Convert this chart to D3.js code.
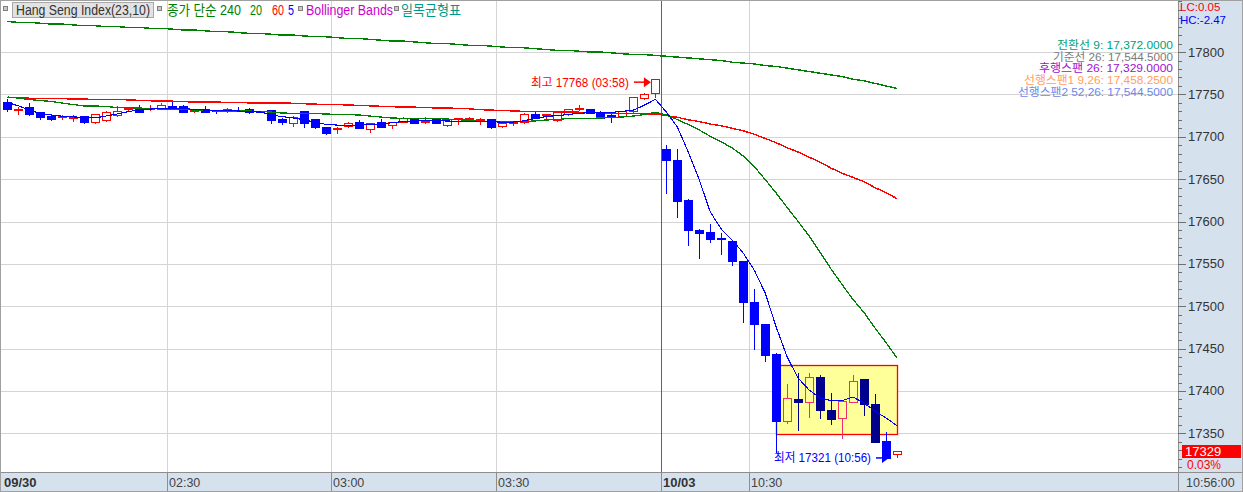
<!DOCTYPE html>
<html><head><meta charset="utf-8">
<script src="https://cdn.jsdelivr.net/npm/d3@7"></script>
<style>
body{margin:0;background:#fff;overflow:hidden}
svg{display:block}
text{font-family:"Liberation Sans","Noto Sans CJK KR",sans-serif}
</style>
</head><body>
<svg id="c" width="1243" height="492"></svg>
<script>
// ---------------- DATA ----------------
const times = [
"02:00","02:02","02:04","02:06","02:08","02:10","02:12","02:14","02:16","02:18",
"02:20","02:22","02:24","02:26","02:28","02:30","02:32","02:34","02:36","02:38",
"02:40","02:42","02:44","02:46","02:48","02:50","02:52","02:54","02:56","02:58",
"03:00","03:02","03:04","03:06","03:08","03:10","03:12","03:14","03:16","03:18",
"03:20","03:22","03:24","03:26","03:28","03:30","03:32","03:34","03:36","03:38",
"03:40","03:42","03:44","03:46","03:48","03:50","03:52","03:54","03:56","03:58",
"10:14","10:16","10:18","10:20","10:22","10:24","10:26","10:28","10:30","10:32",
"10:34","10:36","10:38","10:40","10:42","10:44","10:46","10:48","10:50","10:52",
"10:54","10:56"];

const opens = [17741.5,17731.5,17735,17729,17724,17722.5,17722,17724,17716.5,17719,
17726,17731.5,17733,17732,17733,17736,17736.5,17730,17733,17731.5,
17731,17731.5,17733,17730,17731.5,17720.5,17716.5,17730,17721,17711.5,
17708.5,17713.5,17717,17709.5,17717,17713.5,17718,17721.5,17716.8,17721,
17714,17719.5,17720,17719,17720.5,17712.5,17715.5,17717,17727,17724.5,
17719.5,17726.5,17732.5,17732.7,17729.5,17724.5,17724,17730,17746.5,17751,
17685,17672.5,17625,17590,17588,17580,17577,17553,17505,17479,
17444,17365,17391,17387,17416,17377,17367.5,17387,17414.5,17384.5,
17341,17326];
const closes = [17733,17732.5,17726.5,17723,17720,17723.5,17723,17717,17726.5,17729,
17730.5,17733,17730,17733,17737,17735,17730,17731.5,17730,17729,
17732,17730.5,17729.6,17729.5,17719.5,17717,17723.5,17716,17711.5,17704,
17709.5,17716.5,17710.5,17716.5,17711.5,17717,17722.5,17716.5,17717.5,17716.5,
17721,17722,17722,17720.5,17710.5,17716.5,17716.3,17727,17722.5,17726,
17729,17732.5,17733.5,17728,17723,17724,17730,17746.5,17751,17768,
17671.5,17624.5,17590,17586,17579.7,17579,17553.5,17505,17479,17442,
17365.5,17392,17387,17416,17376.5,17366.5,17388,17412,17385,17340,
17321,17329];
const highs = [17744,17735,17740,17729.5,17727,17725.5,17725.5,17725,17726.5,17731,
17736.5,17735,17737,17737.5,17739.5,17741,17737,17732,17736,17732,
17734,17735,17733.5,17730.5,17732,17722.5,17724,17731,17721.5,17712,
17711.5,17718,17720,17716.5,17720.5,17718,17723,17722,17723,17721.5,
17721.5,17722.5,17723.5,17722.5,17721,17717,17717,17727.5,17730,17727,
17730.5,17733,17737.5,17733,17730,17729,17730.5,17747,17751.5,17768,
17690,17686,17627,17591,17597,17587,17577,17553.5,17520,17479,
17444.5,17408.5,17421.5,17421.5,17419,17397.5,17388,17419,17414.5,17396,
17351.5,17329];
const lows = [17731,17727,17725.5,17721.5,17719.5,17720.5,17718.5,17716.5,17716.5,17719,
17725,17730,17730,17731.5,17733,17734.5,17729,17729,17729.5,17728.5,
17729,17730,17727.5,17729,17716,17715,17712.5,17711,17710,17703.5,
17704,17711.5,17710.5,17705.5,17711,17710,17718,17716,17716.5,17716,
17712.5,17715,17719.5,17715.5,17710,17711.5,17714,17716.5,17722,17720,
17719,17726,17732,17727.5,17722.5,17717.5,17723.5,17729.5,17744,17747,
17634,17605,17572,17557,17576,17561.5,17548.5,17481.5,17449,17435.5,
17328,17362,17353.5,17369,17368,17361.5,17345,17387,17372,17340,
17321,17322];

// moving averages (종가 단순 240 / 20 / 60 / 5)
const ma240 = [17836,17835,17835,17834,17833,17833,17832,17831,17831,17830,
17830,17829,17829,17828,17828,17827,17826,17826,17825,17824,
17824,17823,17822,17822,17821,17820,17820,17819,17818,17818,
17817,17816,17816,17815,17814,17813,17813,17812,17811,17810,
17810,17809,17808,17808,17807,17806,17805,17805,17804,17803,
17802,17802,17801,17800,17800,17799,17798,17797,17797,17796,
17795,17794,17793,17792,17791,17790,17788,17787,17786,17784,
17783,17781,17779,17777,17775,17773,17771,17768,17766,17763,
17760,17757];
const ma20 = [17746.9,17745.7,17743.9,17742.8,17741.6,17739.8,17738.0,17736.3,17736.3,17735.7,
17734.5,17734.3,17733.9,17733.3,17732.7,17732.5,17732.1,17731.6,17731.0,17730.4,
17730.4,17730.4,17730.4,17729.8,17729.2,17728.0,17727.7,17727.7,17727.4,17726.8,
17726.5,17726.2,17725.7,17724.5,17723.3,17722.1,17721.8,17721.8,17721.5,17721.5,
17720.9,17720.3,17719.2,17718.0,17717.8,17717.8,17717.8,17718.0,17718.6,17719.8,
17720.3,17721.5,17721.8,17721.8,17722.1,17722.7,17723.3,17724.5,17726.2,17728.8,
17725.7,17720.3,17714.4,17708.0,17700.5,17694.0,17686.7,17677.3,17664.9,17649.5,
17633.6,17616.5,17600.0,17582.9,17563.4,17543.9,17525.6,17507.9,17492.6,17474.3,
17457.2,17438.9];
const ma60 = [17746,17746,17745.5,17745,17745,17745,17744.5,17744.5,17744,17744,
17744,17743.5,17743,17742.5,17742,17742,17741.5,17741,17741,17741,
17740.5,17740.5,17740,17740,17740,17740,17739.5,17739,17738.5,17738,
17738,17737.5,17737,17736.5,17736,17735.5,17735,17735,17734.5,17734,
17734,17733.5,17733,17732,17731.5,17731,17730.5,17730,17730,17729.5,
17729.5,17729,17729,17728.5,17728.5,17728,17727.5,17727.5,17727,17727,
17725,17723,17720,17718,17715,17713,17710,17707,17703,17698,
17693,17687,17682,17676,17670,17663,17657,17652,17647,17640,
17634,17627];
const ma5 = [17740.4,17736.5,17731.5,17727.3,17725.7,17724.2,17723.4,17723,17722.3,17724.6,
17726.9,17729.6,17731.9,17732.7,17733.4,17733.4,17733.4,17732.3,17731.5,17731.1,
17730.8,17730.4,17730,17729.6,17725.7,17723.8,17722.3,17720,17717.3,17714.6,
17713.8,17713.4,17713.8,17714.2,17715,17716.5,17718,17718.8,17719.2,17719,
17718.6,17718.4,17718.4,17718.4,17717.7,17717.3,17717.3,17718.8,17721.5,17723.8,
17725,17726.1,17727.7,17728.4,17728.8,17728.8,17730,17731.5,17737.3,17744.2,
17729.2,17711.5,17682,17649,17611.2,17591.1,17578.1,17562.8,17542.7,17515.6,
17475.5,17440.1,17415.3,17401.1,17391.7,17388.7,17388.7,17392.9,17385.8,17376.3,
17368.1,17359.2];

const priceTicks = [17350,17400,17450,17500,17550,17600,17650,17700,17750,17800];
const xTickIndex = [0,15,30,45,60,68];
const xTickLabels = ["09/30","02:30","03:00","03:30","10/03","10:30"];
const xTickBold = [true,false,false,false,true,false];
const sessionBreak = 60;
const lastTime = "10:56:00";
const totalSlots = 107;

const highlightIdx = [70,81];          // highlighted box: from/to candle
const highlightPrice = [17349,17431];   // box low/high
const highlightCandles = [71,72,73,74,75,76,77,78,79];

const hiMark = {idx:59, value:17768, label:"최고 17768 (03:58)"};
const loMark = {idx:80, value:17321, label:"최저 17321 (10:56)"};
const lastPrice = 17329, lastChange = "0.03%";
const lcText = "LC:0.05", hcText = "HC:-2.47";

const legendParts = ["Hang Seng Index(23,10)","종가 단순 240","20","60","5","Bollinger Bands","일목균형표"];
const ichimokuLabels = ["전환선 9: 17,372.0000","기준선 26: 17,544.5000","후행스팬 26: 17,329.0000","선행스팬1 9,26: 17,458.2500","선행스팬2 52,26: 17,544.5000"];
const ichimokuColors = ["#00A07A","#7A7A7A","#A010D0","#FFA060","#6A88F0"];

// ---------------- LAYOUT ----------------
const W = 1243, H = 492;
const plotR = 1178, plotB = 472, axisB = 491;
const panelBg = "#D6E1EE";
const svg = d3.select("#c");

const x = d3.scaleBand().domain(d3.range(totalSlots)).range([2, 1177]).paddingInner(0);
const cx = i => x(i) + x.bandwidth()/2;
const y = d3.scaleLinear().domain([17304.4, 17861.4]).range([plotB, 0]);

svg.append("rect").attr("width",W).attr("height",H).attr("fill","#fff");

// horizontal grid
svg.append("g").attr("shape-rendering","crispEdges").selectAll("line").data(priceTicks).join("line")
  .attr("x1",0).attr("x2",plotR)
  .attr("y1",d=>Math.round(y(d))+0.5).attr("y2",d=>Math.round(y(d))+0.5)
  .attr("stroke","#D4D4D4").attr("stroke-width",1.5);
// vertical grid
svg.append("g").attr("shape-rendering","crispEdges").selectAll("line").data(xTickIndex.filter(i=>i!==0 && i!==sessionBreak)).join("line")
  .attr("x1",d=>Math.round(x(d))+0.5).attr("x2",d=>Math.round(x(d))+0.5)
  .attr("y1",0).attr("y2",plotB)
  .attr("stroke","#D4D4D4").attr("stroke-width",1.5);
// session break
svg.append("line").attr("shape-rendering","crispEdges")
  .attr("x1",Math.round(x(sessionBreak))+0.5).attr("x2",Math.round(x(sessionBreak))+0.5)
  .attr("y1",0).attr("y2",plotB).attr("stroke","#FF2020").attr("stroke-width",1);

// highlight box
svg.append("rect")
  .attr("x",Math.round(cx(highlightIdx[0]))+0.5)
  .attr("y",Math.round(y(highlightPrice[1]))+0.5)
  .attr("width",Math.round(cx(highlightIdx[1]))-Math.round(cx(highlightIdx[0])))
  .attr("height",Math.round(y(highlightPrice[0]))-Math.round(y(highlightPrice[1])))
  .attr("fill","#FFFF99").attr("stroke","#FF0000").attr("stroke-width",1.3);

// candles
const cg = svg.append("g").attr("shape-rendering","crispEdges");
opens.forEach((o,i)=>{
  const c = closes[i], h = highs[i], l = lows[i];
  const up = c >= o;
  const hl = highlightCandles.includes(i);
  const col = up ? (hl ? "#F0306A" : "#FF0000") : (hl ? "#00008C" : "#0000FF");
  const xc = Math.round(cx(i));
  const yTop = y(Math.max(o,c)), yBot = y(Math.min(o,c));
  const bh = yBot - yTop;
  cg.append("line").attr("x1",xc+0.5).attr("x2",xc+0.5)
    .attr("y1",Math.round(y(h))).attr("y2",Math.round(y(l))+1)
    .attr("stroke",col).attr("stroke-width",1.3);
  if (bh < 2.2) {
    cg.append("rect").attr("x",xc-4).attr("y",Math.round((yTop+yBot)/2)-1)
      .attr("width",9).attr("height",2).attr("fill",col);
  } else if (up) {
    cg.append("rect").attr("x",xc-3.5).attr("y",Math.round(yTop)+0.5)
      .attr("width",8).attr("height",Math.round(bh))
      .attr("fill",hl ? "#FFFF99" : "#fff").attr("stroke",col).attr("stroke-width",1.3);
  } else {
    cg.append("rect").attr("x",xc-4).attr("y",Math.round(yTop))
      .attr("width",9).attr("height",Math.round(bh)+1).attr("fill",col);
  }
});

// moving averages
const line = d3.line().x((d,i)=>cx(i)).y(d=>y(d));
[[ma240,"#008000",1.4],[ma60,"#FF0000",1.4],[ma20,"#008000",1.3],[ma5,"#0000FF",1.1]].forEach(([arr,col,w])=>{
  svg.append("path").datum(arr).attr("d",line).attr("fill","none")
    .attr("stroke",col).attr("stroke-width",w).attr("shape-rendering","crispEdges");
});

// high / low marks
{
  const tipX = cx(hiMark.idx) - 4.5, ty = y(hiMark.value) + 3;
  svg.append("line").attr("x1",tipX-17).attr("x2",tipX-5).attr("y1",ty).attr("y2",ty).attr("stroke","#FF0000").attr("stroke-width",1.5);
  svg.append("path").attr("d",`M${tipX-7},${ty-5}L${tipX},${ty}L${tipX-7},${ty+5}Z`).attr("fill","#FF0000");
  svg.append("text").attr("x",tipX-22).attr("y",ty+4.5).attr("text-anchor","end")
    .attr("font-size",12.5).attr("fill","#FF0000").attr("textLength",98).attr("lengthAdjust","spacingAndGlyphs").text(hiMark.label);
}
{
  const tipX = cx(loMark.idx) + 3, ty = y(loMark.value);
  svg.append("line").attr("x1",tipX-13).attr("x2",tipX-5).attr("y1",ty).attr("y2",ty).attr("stroke","#0000FF").attr("stroke-width",1.5);
  svg.append("path").attr("d",`M${tipX-7},${ty-5}L${tipX},${ty}L${tipX-7},${ty+5}Z`).attr("fill","#0000FF");
  svg.append("text").attr("x",tipX-18).attr("y",ty+4.5).attr("text-anchor","end")
    .attr("font-size",12.5).attr("fill","#0000FF").attr("textLength",97).attr("lengthAdjust","spacingAndGlyphs").text(loMark.label);
}

// legend
const lg = svg.append("g");
const sq = (xx)=>{ lg.append("rect").attr("x",xx+0.5).attr("y",6.5).attr("width",4).attr("height",4)
  .attr("fill","#C8C8C8").attr("stroke","#808080").attr("shape-rendering","crispEdges"); };
sq(3);
lg.append("rect").attr("x",12.5).attr("y",2.5).attr("width",141).attr("height",15)
  .attr("fill","#E2E2E2").attr("stroke","#A8A8A8").attr("shape-rendering","crispEdges");
lg.append("text").attr("x",16).attr("y",15).attr("font-size",14).attr("fill","#333")
  .attr("textLength",134).attr("lengthAdjust","spacingAndGlyphs").text(legendParts[0]);
sq(157);
const legTexts = [[legendParts[1],167,74,"#008000"],[legendParts[2],250,12,"#008000"],[legendParts[3],272,12,"#FF0000"],
  [legendParts[4],288,6,"#0000FF"],[legendParts[5],306,87,"#CC00CC"],[legendParts[6],401,60,"#009A8A"]];
legTexts.forEach(([t,xx,len,col])=>{
  lg.append("text").attr("x",xx).attr("y",15).attr("font-size",14).attr("fill",col)
    .attr("textLength",len).attr("lengthAdjust","spacingAndGlyphs").text(t);
});
sq(298); sq(394);

// ichimoku labels
const ichimokuWidths = [116,120,134,149,155];
svg.append("g").selectAll("text").data(ichimokuLabels).join("text")
  .attr("x",1173).attr("y",(d,i)=>49+i*11.7).attr("text-anchor","end")
  .attr("font-size",11).attr("fill",(d,i)=>ichimokuColors[i])
  .attr("textLength",(d,i)=>ichimokuWidths[i]).attr("lengthAdjust","spacingAndGlyphs").text(d=>d);

// right panel
svg.append("rect").attr("x",plotR).attr("y",0).attr("width",W-plotR).attr("height",H).attr("fill",panelBg);
svg.append("line").attr("x1",plotR+0.5).attr("x2",plotR+0.5).attr("y1",0).attr("y2",H).attr("stroke","#8E8E8E");
const minor = d3.range(17310, 17861, 10);
svg.append("g").attr("shape-rendering","crispEdges").selectAll("line").data(minor).join("line")
  .attr("x1",plotR).attr("x2",d=>priceTicks.includes(d)?plotR+8:plotR+4)
  .attr("y1",d=>Math.round(y(d))+0.5).attr("y2",d=>Math.round(y(d))+0.5)
  .attr("stroke","#707070");
svg.append("g").selectAll("text").data(priceTicks).join("text")
  .attr("x",1188).attr("y",d=>y(d)+4.5).attr("font-size",13).attr("fill","#333").text(d=>d);
svg.append("text").attr("x",1180).attr("y",11).attr("font-size",11.5).attr("fill","#FF0000").text(lcText);
svg.append("text").attr("x",1180).attr("y",24).attr("font-size",11.5).attr("fill","#0000FF").text(hcText);
// last price
svg.append("rect").attr("x",1182).attr("y",Math.round(y(lastPrice))-6).attr("width",59).attr("height",13).attr("fill","#FF0000");
svg.append("text").attr("x",1185).attr("y",Math.round(y(lastPrice))+5).attr("font-size",13).attr("fill","#fff").text(lastPrice);
svg.append("text").attr("x",1187).attr("y",Math.round(y(lastPrice))+18).attr("font-size",12).attr("fill","#FF0000").text(lastChange);

// bottom axis band
svg.append("rect").attr("x",0).attr("y",plotB).attr("width",W).attr("height",axisB-plotB).attr("fill",panelBg);
svg.append("line").attr("x1",0).attr("x2",W).attr("y1",plotB+0.5).attr("y2",plotB+0.5).attr("stroke","#8E8E8E");
svg.append("line").attr("x1",0).attr("x2",W).attr("y1",axisB+0.5).attr("y2",axisB+0.5).attr("stroke","#8E8E8E");
svg.append("line").attr("x1",plotR+0.5).attr("x2",plotR+0.5).attr("y1",plotB).attr("y2",axisB).attr("stroke","#8E8E8E");
xTickIndex.forEach((idx,k)=>{
  const xx = Math.round(x(idx));
  if (idx!==0) svg.append("line").attr("x1",xx+0.5).attr("x2",xx+0.5).attr("y1",plotB).attr("y2",axisB).attr("stroke","#8E8E8E");
  svg.append("text").attr("x",xx+2).attr("y",487)
    .attr("font-size",xTickBold[k]?13:12.5).attr("font-weight",xTickBold[k]?"bold":"normal")
    .attr("font-family",xTickBold[k]?"Liberation Sans":"Liberation Sans Narrow, Liberation Sans")
    .attr("fill",xTickBold[k]?"#333":"#444").text(xTickLabels[k]);
});
svg.append("text").attr("x",1186).attr("y",487).attr("font-size",12.5)
  .attr("font-family","Liberation Sans Narrow, Liberation Sans").attr("fill","#444").text(lastTime);
// outer border
svg.append("rect").attr("x",0.5).attr("y",0.5).attr("width",W-1).attr("height",H-1).attr("fill","none").attr("stroke","#A0A0A0");
</script>
</body></html>
